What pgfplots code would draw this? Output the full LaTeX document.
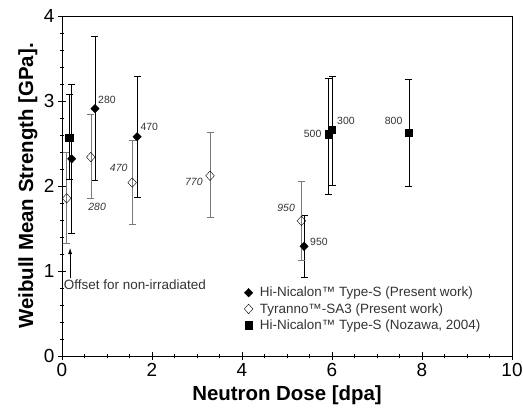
\documentclass[border=0pt]{standalone}
\usepackage{fontspec}
\setmainfont{Liberation Sans}
\usepackage{pgfplots}
\pgfplotsset{compat=1.18}
\usetikzlibrary{arrows.meta}
\definecolor{bargray}{HTML}{7A7A7A}
\definecolor{txtgray}{HTML}{333333}
\begin{document}
\begin{tikzpicture}
\path[use as bounding box] (-62bp,-53bp) rectangle (461bp,356bp);
\begin{axis}[
  scale only axis, width=450bp, height=340bp,
  xmin=0, xmax=10, ymin=0, ymax=4,
  xtick={0,2,...,10}, ytick={0,1,...,4},
  minor x tick num=3, minor y tick num=4,
  tick align=center, xtick pos=bottom, ytick pos=left,
  major tick length=8bp, minor tick length=5bp,
  tick style={black, line width=0.6pt},
  axis line style={line width=0.8pt},
  /pgf/number format/assume math mode=true,
  ticklabel style={font=\fontsize{19}{22}\selectfont},
  xlabel={Neutron Dose [dpa]}, ylabel={Weibull Mean Strength [GPa].},
  label style={font=\bfseries\fontsize{20.5}{24}\selectfont},
  xlabel style={at={(axis description cs:0.5,-0.115)}, anchor=center},
  ylabel style={at={(axis description cs:-0.076,0.5)}, anchor=center},
  legend style={at={(axis cs:3.98,0.86)}, anchor=north west, draw=none, fill=none,
    font=\fontsize{13.5}{15}\selectfont, row sep=1bp, text=txtgray,
    /tikz/every odd column/.style={column sep=5bp}},
  legend cell align=left,
]
\addplot[only marks, mark=diamond*, mark size=4.3, black, mark options={xscale=1.3},
  error bars/.cd, y dir=both, y explicit,
  error bar style={black, line width=0.6pt},
  error mark options={rotate=90, mark size=3.5bp, black, line width=0.6pt}]
  table[x=x, y=y, y error plus=ep, y error minus=em, row sep=\\] {
  x y ep em \\
  0.215 2.32 0.88 0.88 \\
  0.733 2.91 0.85 0.84 \\
  1.67 2.58 0.71 0.71 \\
  5.38 1.29 0.37 0.36 \\
  };
\addlegendentry{Hi-Nicalon™ Type-S (Present work)}
\addplot[only marks, mark=diamond, mark size=4.8, black, mark options={fill=white, xscale=1.2},
  error bars/.cd, y dir=both, y explicit,
  error bar style={bargray, line width=0.6pt},
  error mark options={rotate=90, mark size=3.5bp, bargray, line width=0.6pt}]
  table[x=x, y=y, y error plus=ep, y error minus=em, row sep=\\] {
  x y ep em \\
  0.104 1.855 0.545 0.525 \\
  0.64 2.34 0.50 0.49 \\
  1.56 2.04 0.50 0.49 \\
  3.29 2.12 0.51 0.49 \\
  5.32 1.59 0.46 0.46 \\
  };
\addlegendentry{Tyranno™-SA3 (Present work)}
\addplot[only marks, mark=square*, mark size=3.7, black,
  error bars/.cd, y dir=both, y explicit,
  error bar style={black, line width=0.6pt},
  error mark options={rotate=90, mark size=3.5bp, black, line width=0.6pt}]
  table[x=x, y=y, y error plus=ep, y error minus=em, row sep=\\] {
  x y ep em \\
  0.156 2.57 0.51 0.49 \\
  5.92 2.61 0.66 0.71 \\
  6.0 2.66 0.63 0.65 \\
  7.71 2.63 0.62 0.63 \\
  };
\addlegendentry{Hi-Nicalon™ Type-S (Nozawa, 2004)}
% data labels
\begin{scope}[every node/.style={font=\fontsize{10.5}{12}\selectfont, text=txtgray, inner sep=0pt}]
\node[anchor=west] at (axis cs:0.80,3.01) {280};
\node[anchor=west] at (axis cs:1.74,2.69) {470};
\node at (axis cs:5.71,1.34) {950};
\node at (axis cs:5.57,2.61) {500};
\node at (axis cs:6.31,2.77) {300};
\node at (axis cs:7.37,2.77) {800};
\node at (axis cs:0.78,1.76) {\itshape 280};
\node at (axis cs:1.26,2.21) {\itshape 470};
\node at (axis cs:2.93,2.05) {\itshape 770};
\node at (axis cs:4.98,1.74) {\itshape 950};
\end{scope}
\draw[-{Latex[length=6bp,width=4bp]}, line width=0.6pt] (axis cs:0.18,0.92) -- (axis cs:0.18,1.27);
\node[anchor=west, inner sep=0pt, text=txtgray, font=\fontsize{13.5}{15}\selectfont] at (axis cs:0.04,0.835) {Offset for non-irradiated};
\end{axis}
\end{tikzpicture}
\end{document}
